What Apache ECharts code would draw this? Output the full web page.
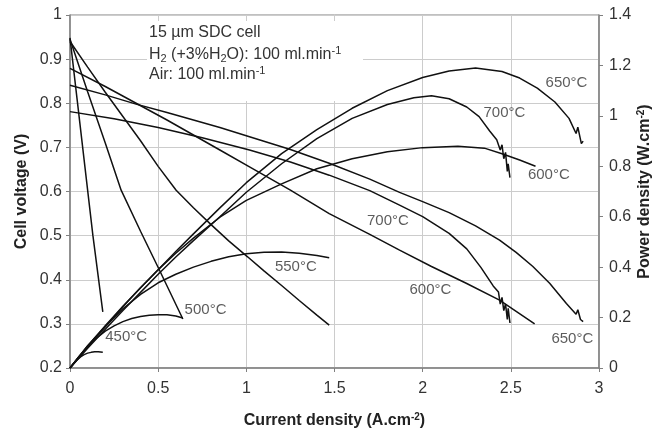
<!DOCTYPE html>
<html>
<head>
<meta charset="utf-8">
<script src="https://cdn.jsdelivr.net/npm/echarts@6/dist/echarts.min.js"></script>
<style>
  html, body { margin: 0; padding: 0; background: #fff; }
  #chart { width: 659px; height: 435px; }
</style>
</head>
<body>
<div id="chart"></div>
<script>
// cell voltage curves [current density A/cm2, voltage V]
var v450 = [[0,0.948],[0.04,0.81],[0.082,0.665],[0.13,0.5],[0.186,0.327]];
var v500 = [[0,0.945],[0.1,0.826],[0.2,0.71],[0.29,0.603],[0.4,0.51],[0.507,0.422],[0.64,0.311]];
var v550 = [[0,0.94],[0.1,0.882],[0.2,0.825],[0.3,0.77],[0.4,0.715],[0.5,0.657],[0.602,0.603],[0.7,0.563],[0.8,0.525],[0.9,0.488],[1.007,0.452],[1.1,0.42],[1.2,0.387],[1.3,0.353],[1.4,0.32],[1.47,0.297]];
var v600 = [[0,0.879],[0.2,0.838],[0.375,0.80],[0.55,0.762],[0.7,0.728],[0.85,0.694],[1.018,0.656],[1.25,0.603],[1.47,0.55],[1.7,0.503],[1.869,0.467],[2.05,0.43],[2.247,0.392],[2.436,0.354],[2.635,0.30]];
var v650 = [[0,0.841],[0.2,0.819],[0.375,0.798],[0.55,0.779],[0.7,0.762],[0.85,0.745],[1.018,0.724],[1.25,0.695],[1.47,0.664],[1.7,0.628],[1.869,0.598],[2.0,0.577],[2.15,0.552],[2.3,0.522],[2.436,0.49],[2.53,0.462],[2.625,0.43],[2.72,0.392],[2.815,0.346],[2.87,0.322],[2.88,0.332],[2.895,0.31],[2.91,0.305]];
var v700 = [[0,0.781],[0.25,0.765],[0.5,0.745],[0.75,0.722],[1.018,0.694],[1.25,0.667],[1.47,0.637],[1.7,0.602],[1.869,0.569],[2.0,0.543],[2.15,0.505],[2.25,0.47],[2.33,0.428],[2.4,0.386],[2.43,0.372],[2.44,0.345],[2.45,0.36],[2.46,0.33],[2.47,0.345],[2.48,0.31],[2.485,0.335],[2.495,0.302]];

// power density curves [current density A/cm2, power W/cm2]
var p450 = [[0,0],[0.02,0.017],[0.04,0.032],[0.06,0.044],[0.08,0.053],[0.1,0.059],[0.12,0.062],[0.14,0.064],[0.16,0.064],[0.186,0.062]];
var p500 = [[0,0],[0.05,0.045],[0.1,0.085],[0.15,0.118],[0.2,0.146],[0.25,0.167],[0.3,0.184],[0.35,0.196],[0.4,0.204],[0.45,0.209],[0.5,0.211],[0.55,0.211],[0.6,0.206],[0.64,0.198]];
var p550 = [[0,0],[0.1,0.088],[0.2,0.165],[0.3,0.235],[0.4,0.292],[0.5,0.338],[0.6,0.372],[0.7,0.4],[0.8,0.423],[0.9,0.441],[1.0,0.453],[1.1,0.459],[1.2,0.46],[1.3,0.455],[1.4,0.446],[1.47,0.437]];
var p600 = [[0,0],[0.1,0.087],[0.2,0.168],[0.3,0.245],[0.4,0.318],[0.5,0.39],[0.6,0.455],[0.7,0.515],[0.85,0.598],[1.0,0.665],[1.2,0.73],[1.4,0.79],[1.6,0.83],[1.8,0.858],[2.0,0.874],[2.2,0.879],[2.35,0.872],[2.45,0.85],[2.55,0.825],[2.64,0.80]];
var p650 = [[0,0],[0.1,0.083],[0.2,0.164],[0.3,0.243],[0.4,0.318],[0.5,0.39],[0.6,0.462],[0.7,0.532],[0.85,0.635],[1.0,0.735],[1.2,0.85],[1.4,0.945],[1.6,1.03],[1.8,1.1],[2.0,1.152],[2.15,1.178],[2.3,1.19],[2.45,1.176],[2.55,1.15],[2.65,1.11],[2.75,1.055],[2.83,0.99],[2.87,0.93],[2.88,0.955],[2.9,0.89],[2.91,0.9]];
var p700 = [[0,0],[0.1,0.078],[0.2,0.154],[0.3,0.228],[0.4,0.3],[0.5,0.372],[0.6,0.44],[0.7,0.505],[0.85,0.6],[1.0,0.697],[1.2,0.81],[1.4,0.91],[1.6,0.99],[1.8,1.045],[1.95,1.072],[2.05,1.08],[2.15,1.068],[2.25,1.035],[2.32,0.997],[2.38,0.94],[2.42,0.905],[2.44,0.865],[2.45,0.885],[2.46,0.83],[2.47,0.855],[2.48,0.78],[2.485,0.81],[2.495,0.755]];

// temperature labels [x, y, text]
var labelsV = [[0.2,0.27,'450°C'],[0.65,0.331,'500°C'],[1.162,0.429,'550°C'],[1.925,0.376,'600°C'],[2.73,0.267,'650°C'],[1.684,0.534,'700°C']];
var labelsP = [[2.697,1.13,'650°C'],[2.345,1.013,'700°C'],[2.597,0.766,'600°C']];

var xTicks = { min: 0, max: 3, interval: 0.5 };
var vTicks = { min: 0.2, max: 1, interval: 0.1 };
var pTicks = { min: 0, max: 1.4, interval: 0.2 };

var FONT = 'Liberation Sans, Arial, sans-serif';
var chart = echarts.init(document.getElementById('chart'));

function curve(data, axis) {
	return {
		type: 'line',
		yAxisIndex: axis,
		data: data,
		showSymbol: false,
		lineStyle: { color: '#111', width: 1.5 },
		silent: true,
		z: 3
	};
}
function labels(data, axis) {
	return {
		type: 'scatter',
		yAxisIndex: axis,
		data: data,
		symbolSize: 0,
		silent: true,
		label: {
			show: true,
			position: 'right',
			distance: 0,
			formatter: function (p) { return p.value[2]; },
			color: '#333',
			fontFamily: FONT,
			fontSize: 15
		},
		z: 4
	};
}

var axisText = { color: '#333', fontFamily: FONT, fontSize: 16 };
var nameText = {
	color: '#222', fontFamily: FONT, fontSize: 16, fontWeight: 'bold',
	rich: {
		sup: { fontSize: 10, fontWeight: 'bold', fontFamily: FONT, color: '#222', padding: [0, 0, 8, 0] }
	}
};
var subStyle = { fontSize: 11, fontFamily: FONT, color: '#333', padding: [7, 0, 0, 0] };
var supStyle = { fontSize: 11, fontFamily: FONT, color: '#333', padding: [0, 0, 8, 0] };

var option = {
	animation: false,
	backgroundColor: '#fff',
	grid: {
		left: 70, right: 60, top: 15, bottom: 67,
		outerBoundsMode: 'none', containLabel: false,
		show: true, borderColor: '#808080', borderWidth: 1
	},
	xAxis: {
		type: 'value', min: xTicks.min, max: xTicks.max, interval: xTicks.interval,
		axisLine: { show: true, lineStyle: { color: '#808080', width: 1.5 } },
		axisTick: { show: true, length: 4, lineStyle: { color: '#808080' } },
		axisLabel: Object.assign({ margin: 13 }, axisText),
		splitLine: { show: true, lineStyle: { color: '#cccccc' } },
		name: 'Current density (A.cm{sup|-2})',
		nameLocation: 'middle',
		nameGap: 44,
		nameMoveOverlap: false,
		nameTextStyle: nameText
	},
	yAxis: [{
		type: 'value', min: vTicks.min, max: vTicks.max, interval: vTicks.interval,
		axisLine: { show: true, lineStyle: { color: '#808080', width: 1.5 } },
		axisTick: { show: true, length: 4, lineStyle: { color: '#808080' } },
		axisLabel: Object.assign({ margin: 8 }, axisText),
		splitLine: { show: true, lineStyle: { color: '#cccccc' } },
		name: 'Cell voltage (V)',
		nameLocation: 'middle',
		nameRotate: 90,
		nameGap: 40,
		nameMoveOverlap: false,
		nameTextStyle: nameText
	}, {
		type: 'value', position: 'right', min: pTicks.min, max: pTicks.max, interval: pTicks.interval,
		axisLine: { show: true, lineStyle: { color: '#808080', width: 1.5 } },
		axisTick: { show: true, length: 4, lineStyle: { color: '#808080' } },
		axisLabel: Object.assign({ margin: 10 }, axisText),
		splitLine: { show: false },
		name: 'Power density (W.cm{sup|-2})',
		nameLocation: 'middle',
		nameRotate: 90,
		nameGap: 37,
		nameMoveOverlap: false,
		nameTextStyle: nameText
	}],
	graphic: [
		{ type: 'rect', shape: { x: 147, y: 21, width: 216, height: 80 }, style: { fill: '#fff' }, z: 1, silent: true },
		{ type: 'text', x: 149, y: 33, z: 10, style: { text: '15 µm SDC cell', fill: '#333', font: '16px ' + FONT, verticalAlign: 'middle' } },
		{ type: 'text', x: 149, y: 55, z: 10, style: {
			text: 'H{sub|2} (+3%H{sub|2}O): 100 ml.min{sup|-1}', fill: '#333', font: '16px ' + FONT, verticalAlign: 'middle',
			rich: { sub: subStyle, sup: supStyle }
		} },
		{ type: 'text', x: 149, y: 75, z: 10, style: {
			text: 'Air: 100 ml.min{sup|-1}', fill: '#333', font: '16px ' + FONT, verticalAlign: 'middle',
			rich: { sup: supStyle }
		} }
	],
	series: [
		curve(v450, 0), curve(v500, 0), curve(v550, 0), curve(v600, 0), curve(v650, 0), curve(v700, 0),
		curve(p450, 1), curve(p500, 1), curve(p550, 1), curve(p600, 1), curve(p650, 1), curve(p700, 1),
		labels(labelsV, 0), labels(labelsP, 1)
	]
};
chart.setOption(option);
</script>
</body>
</html>
